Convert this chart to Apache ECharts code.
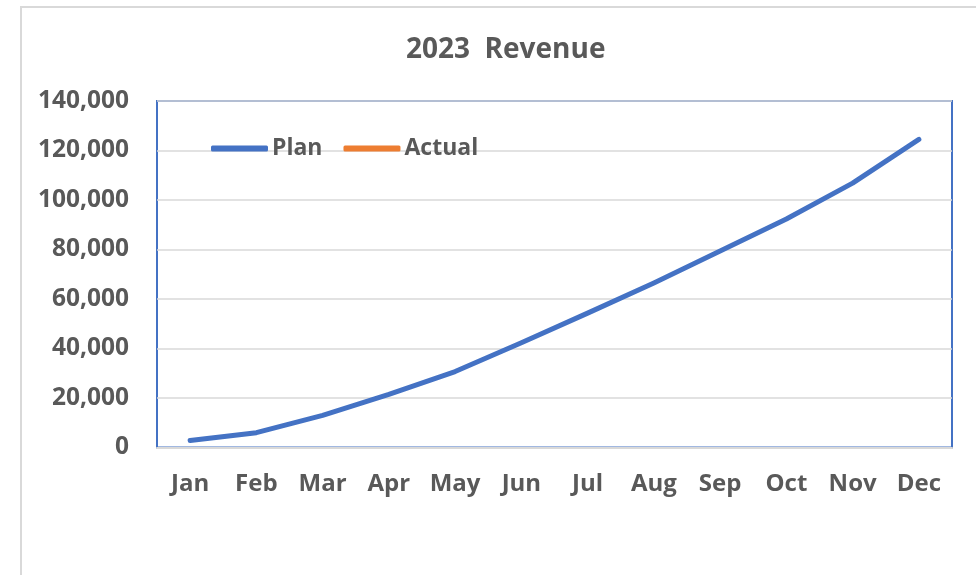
<!DOCTYPE html>
<html>
<head>
<meta charset="utf-8">
<script src="https://cdn.jsdelivr.net/npm/echarts@6/dist/echarts.min.js"></script>
<style>
html,body{margin:0;padding:0;background:#fff;overflow:hidden;}
#frame{position:absolute;left:20px;top:6px;width:1000px;height:600px;border-top:2px solid #d9d9d9;border-left:2px solid #d9d9d9;box-sizing:border-box;}
#chart{position:absolute;left:0;top:0;width:976px;height:575px;}
</style>
</head>
<body>
<div id="frame"></div>
<div id="chart"></div>
<script>
const titleText = '2023  Revenue';
const months = ['Jan','Feb','Mar','Apr','May','Jun','Jul','Aug','Sep','Oct','Nov','Dec'];
const plan = [2800, 6000, 13000, 21500, 30700, 42300, 54300, 66500, 79400, 92300, 106800, 124500];
const actual = [];
const yTicks = {min: 0, max: 140000, interval: 20000};

const FONT = 'Open Sans';
const TXT = '#595959';
const chart = echarts.init(document.getElementById('chart'), null, {renderer: 'canvas'});
chart.setOption({
  animation: false,
  backgroundColor: 'transparent',
  title: {
    text: titleText, left: 401, top: 31,
    textStyle: {fontFamily: FONT, fontWeight: 'bold', fontSize: 28, color: TXT}
  },
  legend: {
    left: 206, top: 132, itemWidth: 57, itemHeight: 6, itemGap: 21,
    icon: 'roundRect',
    textStyle: {fontFamily: FONT, fontWeight: 'bold', fontSize: 23, color: TXT, padding: [0, 0, 0, -1]},
    data: ['Plan', 'Actual']
  },
  grid: {
    left: 157, top: 101, right: 24, bottom: 127.5,
    show: true, borderColor: '#4472C4', borderWidth: 2, containLabel: false
  },
  xAxis: {
    type: 'category', data: months, boundaryGap: true,
    axisLine: {show: true, lineStyle: {color: '#d9d9d9', width: 2}},
    axisTick: {show: false},
    axisLabel: {margin: 25, fontFamily: FONT, fontWeight: 'bold', fontSize: 24, color: TXT}
  },
  yAxis: {
    type: 'value', min: yTicks.min, max: yTicks.max, interval: yTicks.interval,
    axisLine: {show: false}, axisTick: {show: false},
    splitLine: {lineStyle: {color: '#d9d9d9', width: 1.5}},
    axisLabel: {
      margin: 28, fontFamily: FONT, fontWeight: 'bold', fontSize: 24.5, color: TXT,
      formatter: v => v.toLocaleString('en-US')
    }
  },
  series: [
    {name: 'Plan', type: 'line', data: plan, showSymbol: false, symbol: 'none',
     color: '#4472C4', lineStyle: {width: 5, cap: 'round', join: 'round', color: '#4472C4'}},
    {name: 'Actual', type: 'line', data: actual, showSymbol: false, symbol: 'none',
     color: '#ED7D31', lineStyle: {width: 5, cap: 'round', color: '#ED7D31'}}
  ]
});
</script>
</body>
</html>
